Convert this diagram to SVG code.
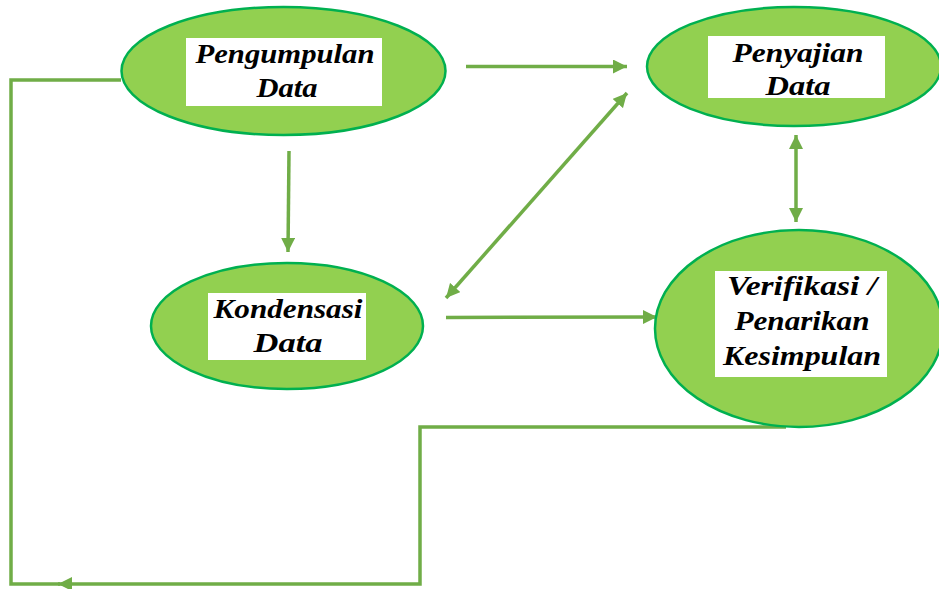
<svg xmlns="http://www.w3.org/2000/svg" width="939" height="589" viewBox="0 0 939 589">
<defs>
<style>
.node{fill:#92D050;stroke:#00B050;stroke-width:2.5}
.box{fill:#ffffff}
.lbl{font-family:"Liberation Serif","DejaVu Serif",serif;font-style:italic;font-weight:bold;font-size:27px;fill:#000;text-anchor:middle}
.con{fill:none;stroke:#70AD47;stroke-width:3.5}
</style>
<marker id="ah" viewBox="0 0 10 10" refX="10" refY="5" markerWidth="4" markerHeight="4" orient="auto-start-reverse" markerUnits="strokeWidth">
<path d="M0,0 L10,5 L0,10 z" fill="#70AD47"/>
</marker>
</defs>
<rect width="939" height="589" fill="#ffffff"/>
<g id="connectors">
<polyline class="con" points="121,80 11,80 11,584 60,584"/>
<polyline class="con" points="786,427 420,427 420,584 58,584" marker-end="url(#ah)"/>
<line class="con" x1="466" y1="66.5" x2="627" y2="66.5" marker-end="url(#ah)"/>
<line class="con" x1="446" y1="298" x2="627" y2="93" marker-start="url(#ah)" marker-end="url(#ah)"/>
<line class="con" x1="446" y1="317.5" x2="657" y2="317" marker-end="url(#ah)"/>
<line class="con" x1="289" y1="151" x2="288" y2="252" marker-end="url(#ah)"/>
<line class="con" x1="796" y1="135" x2="796" y2="222" marker-start="url(#ah)" marker-end="url(#ah)"/>
</g>
<g id="pengumpulan">
<ellipse class="node" cx="283.5" cy="71" rx="162" ry="64"/>
<rect class="box" x="186" y="38" width="196" height="68"/>
<text class="lbl" x="285" y="63" textLength="179" lengthAdjust="spacingAndGlyphs">Pengumpulan</text>
<text class="lbl" x="287" y="97" textLength="61" lengthAdjust="spacingAndGlyphs">Data</text>
</g>
<g id="penyajian">
<ellipse class="node" cx="794" cy="66.5" rx="147" ry="59.5"/>
<rect class="box" x="708" y="36" width="177" height="62"/>
<text class="lbl" x="798" y="62" textLength="131" lengthAdjust="spacingAndGlyphs">Penyajian</text>
<text class="lbl" x="798" y="95" textLength="65" lengthAdjust="spacingAndGlyphs">Data</text>
</g>
<g id="verifikasi">
<ellipse class="node" cx="799" cy="328.5" rx="144" ry="98.5"/>
<rect class="box" x="715" y="271" width="172" height="106"/>
<text class="lbl" x="802" y="295" textLength="150" lengthAdjust="spacingAndGlyphs">Verifikasi /</text>
<text class="lbl" x="802" y="330" textLength="135" lengthAdjust="spacingAndGlyphs">Penarikan</text>
<text class="lbl" x="802" y="365" textLength="158" lengthAdjust="spacingAndGlyphs">Kesimpulan</text>
</g>
<g id="kondensasi">
<ellipse class="node" cx="287" cy="326" rx="136" ry="63"/>
<rect class="box" x="208" y="293" width="158" height="67"/>
<text class="lbl" x="288" y="318" textLength="149" lengthAdjust="spacingAndGlyphs">Kondensasi</text>
<text class="lbl" x="288" y="352" textLength="69" lengthAdjust="spacingAndGlyphs">Data</text>
</g>
</svg>
